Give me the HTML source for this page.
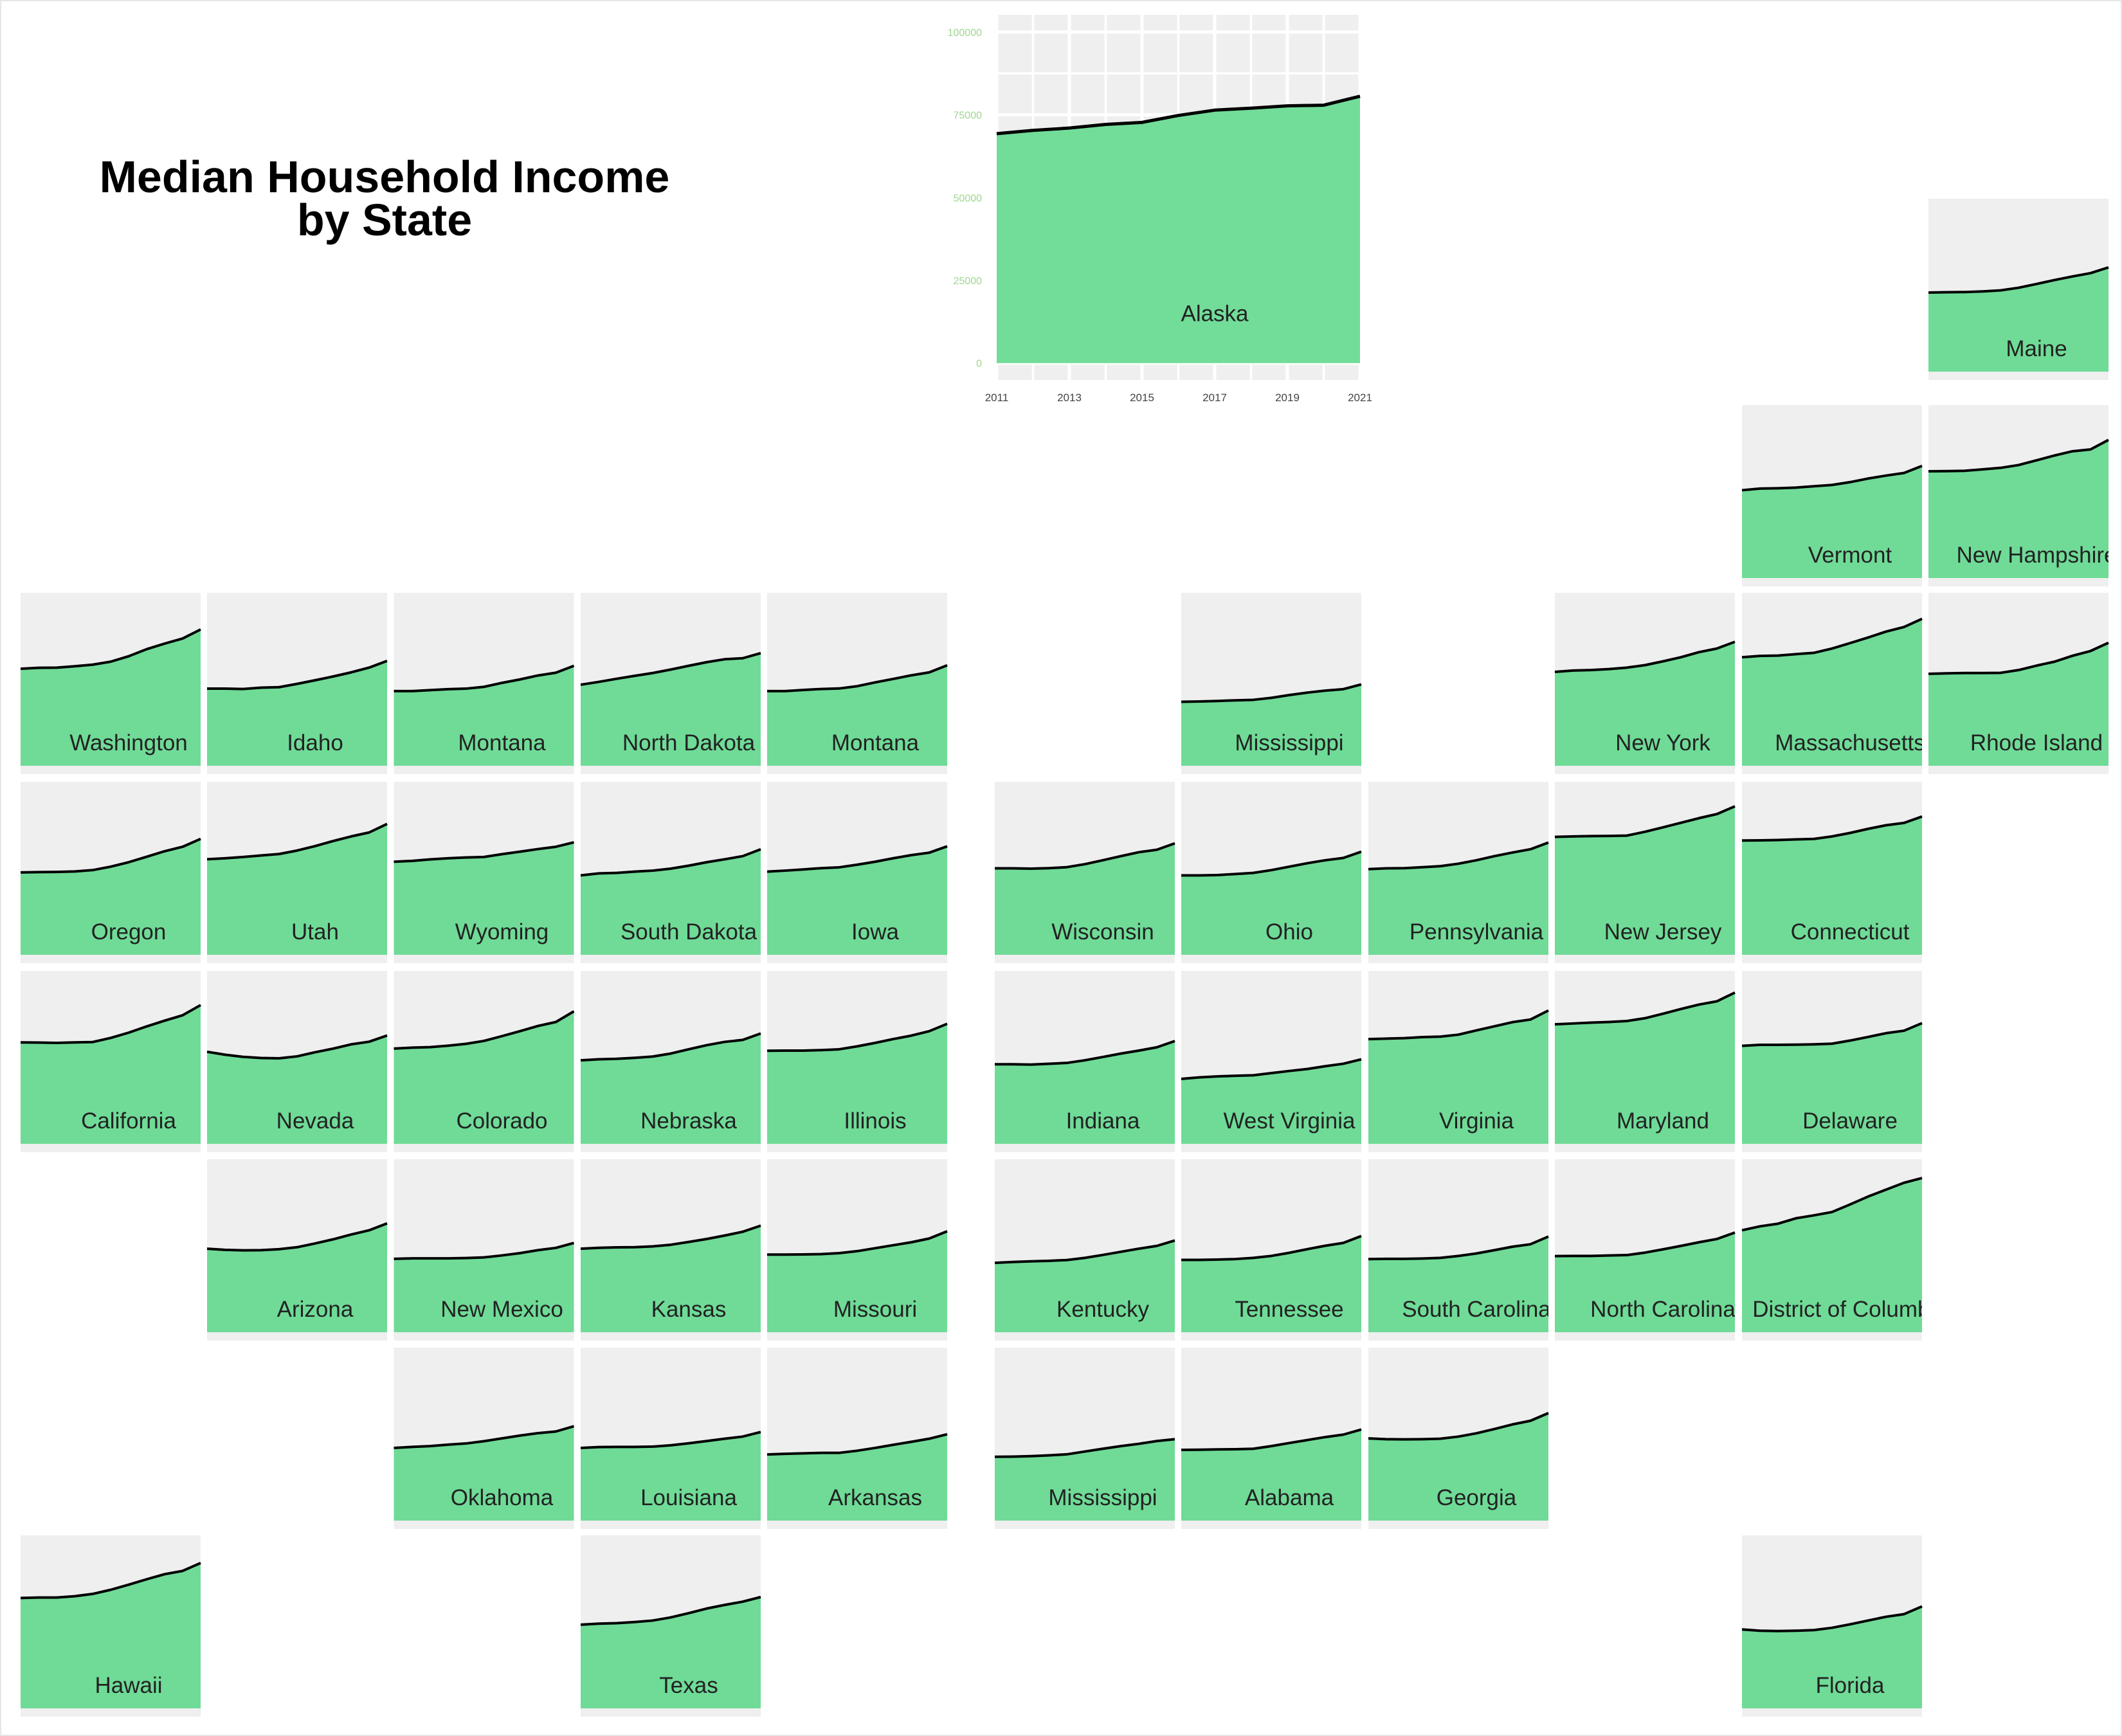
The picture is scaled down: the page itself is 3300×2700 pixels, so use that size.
<!DOCTYPE html>
<html><head><meta charset="utf-8">
<style>
html,body{margin:0;padding:0;background:#fff;}
svg{display:block;}
text{font-family:"Liberation Sans",Arial,sans-serif;}
</style></head>
<body>
<svg id="chart" width="3300" height="2700" viewBox="0 0 3300 2700" xmlns="http://www.w3.org/2000/svg">
<rect x="0" y="0" width="3300" height="2700" fill="#fff" stroke="#e6e6e6" stroke-width="4"/>
<text x="598" y="299" text-anchor="middle" font-size="70" font-weight="bold" fill="#000">Median Household Income</text>
<text x="598" y="366" text-anchor="middle" font-size="70" font-weight="bold" fill="#000">by State</text>
<g id="panels"></g>
</svg>
<script>
const years = [2011,2012,2013,2014,2015,2016,2017,2018,2019,2020,2021];
const yTicks = [0,25000,50000,75000,100000];
const yTickLabels = ["0","25000","50000","75000","100000"];
const xTicks = [2011,2013,2015,2017,2019,2021];
const xTickLabels = ["2011","2013","2015","2017","2019","2021"];

const alaska = [69300,70300,71000,72100,72700,74800,76400,77000,77700,77900,80600];
const washington = [59000,59600,59700,60500,61500,63300,66600,70900,74300,77400,82900];
const idaho = [46900,46900,46700,47500,47800,49800,52000,54300,56800,59700,63800];
const montana = [45400,45400,46000,46600,46900,48000,50400,52500,54900,56600,60800];
const northDakota = [49300,51000,52900,54700,56400,58500,60800,63000,64800,65400,68500];
const montana2 = [45400,45400,46100,46700,47000,48400,50700,52800,55000,56800,61100];
const mississippi = [38900,39100,39400,39800,40100,41300,43000,44500,45700,46600,49500];
const newYork = [57100,57900,58200,58800,59700,61200,63500,66000,69100,71300,75400];
const massachusetts = [66000,66800,67000,67900,68700,71300,74600,78000,81600,84400,89400];
const rhodeIsland = [55900,56200,56400,56400,56500,58200,60900,63300,66900,69800,74800];
const oregon = [50100,50300,50400,50700,51500,53600,56300,59600,63000,65700,70500];
const utah = [58100,58700,59500,60400,61300,63400,66100,69200,72000,74400,79600];
const wyoming = [56600,57100,58000,58700,59200,59500,61200,62700,64300,65700,68400];
const southDakota = [48300,49500,49800,50600,51200,52400,54200,56300,58100,60000,64200];
const iowa = [50600,51200,51900,52700,53200,54800,56600,58700,60600,62100,66000];
const wisconsin = [52600,52600,52400,52700,53300,55100,57500,60000,62400,63900,67800];
const ohio = [48300,48300,48500,49100,49800,51500,53600,55700,57500,58900,62700];
const pennsylvania = [52100,52600,52700,53300,53900,55400,57500,60000,62200,64200,68300];
const newJersey = [71700,72000,72200,72300,72500,74800,77500,80300,83100,85600,90300];
const connecticut = [69500,69600,69800,70200,70500,72000,74100,76600,78800,80200,84100];
const california = [61700,61600,61400,61700,61900,64400,67600,71400,74900,78200,84400];
const nevada = [56000,54200,52900,52200,52000,53200,55700,57900,60500,62100,65900];
const colorado = [57900,58500,58800,59700,60800,62600,65500,68500,71700,74100,80600];
const nebraska = [50800,51400,51700,52300,53100,54900,57500,60000,62000,63200,67100];
const illinois = [56600,56700,56700,57000,57500,59300,61400,63700,65800,68500,73000];
const indiana = [48400,48400,48200,48700,49200,50800,52800,54900,56700,58700,62500];
const westVirginia = [39500,40400,41000,41400,41700,43000,44300,45500,47200,48700,51400];
const virginia = [63700,64000,64300,64900,65200,66400,69000,71500,74000,75600,81100];
const maryland = [72700,73200,73700,74100,74700,76400,79100,82000,84700,86700,92000];
const delaware = [59600,60200,60200,60300,60500,60900,62800,65000,67300,68800,73400];
const arizona = [50800,50100,49800,49900,50500,51700,54000,56500,59400,62000,66200];
const newMexico = [44600,44900,44900,44900,45100,45500,46700,48100,49900,51300,54300];
const kansas = [50800,51300,51600,51700,52200,53200,54900,56700,58800,61100,64800];
const missouri = [47200,47200,47300,47500,48100,49300,51100,52900,54700,57000,61400];
const kentucky = [42200,42700,43100,43400,43900,45200,47000,48900,50800,52500,55800];
const tennessee = [44000,44000,44200,44500,45200,46400,48300,50500,52600,54300,58500];
const southCarolina = [44500,44600,44600,44800,45200,46400,47900,49900,52000,53500,58200];
const northCarolina = [46300,46400,46400,46700,46900,48400,50400,52500,54700,56700,60600];
const districtOfColumbia = [62000,64400,66000,69300,71100,73100,77700,82500,86700,90900,93800];
const oklahoma = [44200,44800,45300,46200,46900,48300,50000,51700,53200,54200,57400];
const louisiana = [44200,44700,44800,44800,45000,45800,47000,48400,49800,51100,53900];
const arkansas = [40200,40600,40900,41200,41200,42500,44200,46100,47900,49800,52500];
const mississippi2 = [38800,38900,39200,39700,40300,42000,43700,45300,46700,48400,49500];
const alabama = [43000,43100,43300,43400,43700,45300,47200,49000,50800,52300,55400];
const georgia = [50000,49500,49400,49500,49800,51100,53100,55700,58500,60700,65400];
const hawaii = [67100,67400,67400,68200,69600,72100,75200,78500,81600,83600,88400];
const texas = [50900,51500,51800,52500,53400,55300,57900,60700,62900,64900,67700];
const florida = [48000,47200,47000,47200,47600,49000,51100,53400,55700,57300,62000];
const maine = [48100,48300,48400,48800,49400,51000,53300,55700,57900,59900,63400];
const vermont = [53400,54400,54600,55000,55800,56600,58300,60500,62300,63900,68200];
const newHampshire = [64900,65000,65200,66100,67000,68700,71600,74500,77100,78200,84000];

// grid layout: [label, series, column index, row key]
const tiles = [
 ["Washington",washington,0,"r1"],["Idaho",idaho,1,"r1"],["Montana",montana,2,"r1"],["North Dakota",northDakota,3,"r1"],["Montana",montana2,4,"r1"],
 ["Mississippi",mississippi,6,"r1"],["New York",newYork,8,"r1"],["Massachusetts",massachusetts,9,"r1"],["Rhode Island",rhodeIsland,10,"r1"],
 ["Oregon",oregon,0,"r2"],["Utah",utah,1,"r2"],["Wyoming",wyoming,2,"r2"],["South Dakota",southDakota,3,"r2"],["Iowa",iowa,4,"r2"],
 ["Wisconsin",wisconsin,5,"r2"],["Ohio",ohio,6,"r2"],["Pennsylvania",pennsylvania,7,"r2"],["New Jersey",newJersey,8,"r2"],["Connecticut",connecticut,9,"r2"],
 ["California",california,0,"r3"],["Nevada",nevada,1,"r3"],["Colorado",colorado,2,"r3"],["Nebraska",nebraska,3,"r3"],["Illinois",illinois,4,"r3"],
 ["Indiana",indiana,5,"r3"],["West Virginia",westVirginia,6,"r3"],["Virginia",virginia,7,"r3"],["Maryland",maryland,8,"r3"],["Delaware",delaware,9,"r3"],
 ["Arizona",arizona,1,"r4"],["New Mexico",newMexico,2,"r4"],["Kansas",kansas,3,"r4"],["Missouri",missouri,4,"r4"],
 ["Kentucky",kentucky,5,"r4"],["Tennessee",tennessee,6,"r4"],["South Carolina",southCarolina,7,"r4"],["North Carolina",northCarolina,8,"r4"],["District of Columbia",districtOfColumbia,9,"r4"],
 ["Oklahoma",oklahoma,2,"r5"],["Louisiana",louisiana,3,"r5"],["Arkansas",arkansas,4,"r5"],["Mississippi",mississippi2,5,"r5"],["Alabama",alabama,6,"r5"],["Georgia",georgia,7,"r5"],
 ["Hawaii",hawaii,0,"r6"],["Texas",texas,3,"r6"],["Florida",florida,9,"r6"],
 ["Vermont",vermont,9,"r0"],["New Hampshire",newHampshire,10,"r0"],["Maine",maine,10,"rm"]
];

const NS = "http://www.w3.org/2000/svg";
const colX = [32,322,612.5,903,1193,1547,1837,2128,2418,2709,2999];
const rowY = {rm:309, r0:630, r1:922, r2:1216, r3:1510, r4:1803, r5:2096, r6:2388};
const Y_MIN = -5100, Y_MAX = 105200, LABEL_YEAR = 2017;
const root = document.getElementById('panels');

function mk(tag, attrs, parent){
  const e = document.createElementNS(NS, tag);
  for (const k in attrs) e.setAttribute(k, attrs[k]);
  parent.appendChild(e);
  return e;
}
function slug(s){ return s.toLowerCase().replace(/[^a-z0-9]+/g,'-'); }

function drawPanel(name, series, x0, y0, w, h, big, idx){
  const xs = yr => x0 + (yr - years[0]) / (years[years.length-1] - years[0]) * w;
  const ys = v => y0 + h - (v - Y_MIN) / (Y_MAX - Y_MIN) * h;
  const g = mk('g', {}, root);
  
  
  const cid = 'clip' + idx;
  const cp = mk('clipPath', {id: cid}, g);
  mk('rect', {x: x0, y: y0, width: w, height: h}, cp);
  const bg = mk('rect', {x: x0, y: y0, width: w, height: h, fill: '#efefef'}, g);
  
  
  if (big) {
    for (let yr = years[0]; yr <= years[years.length-1]; yr++) {
      const gl = mk('line', {x1: xs(yr), x2: xs(yr), y1: y0, y2: y0+h, stroke: '#fff', 'stroke-width': (yr - 2011) % 2 === 0 ? 5 : 3.5}, g);
      
      
    }
    for (let v = 0; v <= 100000; v += 12500) {
      const gl = mk('line', {x1: x0, x2: x0+w, y1: ys(v), y2: ys(v), stroke: '#fff', 'stroke-width': v % 25000 === 0 ? 5 : 3.5}, g);
      
      
    }
  }
  let d = 'M' + xs(years[0]) + ',' + ys(0);
  years.forEach((yr, i) => { d += ' L' + xs(yr) + ',' + ys(series[i]); });
  d += ' L' + xs(years[years.length-1]) + ',' + ys(0) + ' Z';
  const area = mk('path', {d: d, fill: '#6fdb97', 'fill-opacity': big ? 0.98 : 1}, g);
  
  
  let ld = '';
  years.forEach((yr, i) => { ld += (i ? ' L' : 'M') + xs(yr) + ',' + ys(series[i]); });
  const line = mk('path', {d: ld, fill: 'none', stroke: '#000', 'stroke-width': big ? 5 : 4, 'stroke-linejoin': 'round'}, g);
  
  
  const lab = mk('text', {x: xs(LABEL_YEAR), y: ys(0) - (big ? 65 : 24), 'text-anchor': 'middle', 'font-size': 35, fill: '#222', 'clip-path': 'url(#' + cid + ')'}, g);
  lab.textContent = name;
  
  
  if (big) {
    yTicks.forEach((v, i) => {
      const t = mk('text', {x: 1527, y: ys(v) + 6, 'text-anchor': 'end', 'font-size': 16, fill: '#9fd68f'}, g);
      t.textContent = yTickLabels[i];
      
      
    });
    xTicks.forEach((yr, i) => {
      const t = mk('text', {x: xs(yr), y: 624, 'text-anchor': 'middle', 'font-size': 17, fill: '#444'}, g);
      t.textContent = xTickLabels[i];
      
      
    });
  }
}

drawPanel("Alaska", alaska, 1550, 23, 565, 568, true, 0);
tiles.forEach((t, i) => drawPanel(t[0], t[1], colX[t[2]], rowY[t[3]], 280, 282, false, i + 1));
</script>
</body></html>
